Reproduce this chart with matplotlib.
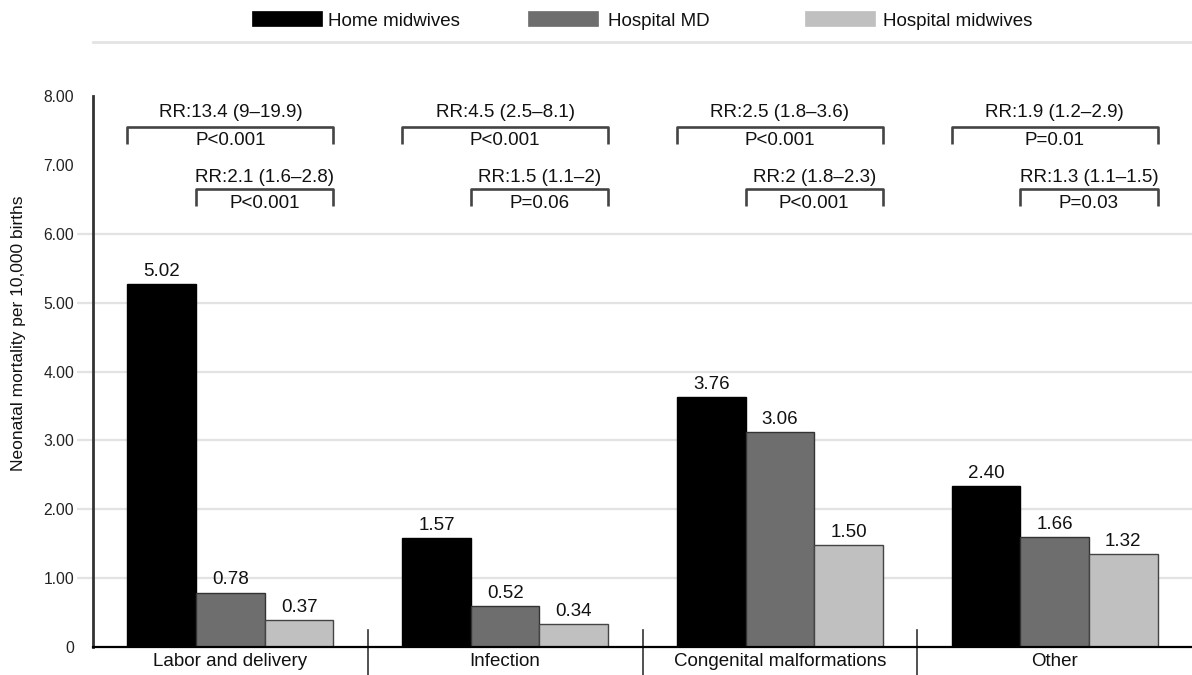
import matplotlib.pyplot as plt
from matplotlib.patches import Rectangle
import numpy as np

plt.rcParams['font.family'] = ['Liberation Sans', 'DejaVu Sans']

categories = ['Labor and delivery', 'Infection', 'Congenital malformations', 'Other']
series = ['Home midwives', 'Hospital MD', 'Hospital midwives']
colors = ['#000000', '#6e6e6e', '#c0c0c0']
edges = ['#000000', '#333333', '#444444']

# bar heights as drawn, and the printed labels
home_mw = [5.27, 1.58, 3.63, 2.34]
hosp_md = [0.79, 0.59, 3.12, 1.60]
hosp_mw = [0.39, 0.33, 1.48, 1.35]
home_lbl = ['5.02', '1.57', '3.76', '2.40']
md_lbl = ['0.78', '0.52', '3.06', '1.66']
mw_lbl = ['0.37', '0.34', '1.50', '1.32']

# relative risks: home midwives vs all hospital, and vs hospital MD
rr_all = ['RR:13.4 (9\u201319.9)', 'RR:4.5 (2.5\u20138.1)', 'RR:2.5 (1.8\u20133.6)', 'RR:1.9 (1.2\u20132.9)']
p_all = ['P<0.001', 'P<0.001', 'P<0.001', 'P=0.01']
rr_md = ['RR:2.1 (1.6\u20132.8)', 'RR:1.5 (1.1\u20132)', 'RR:2 (1.8\u20132.3)', 'RR:1.3 (1.1\u20131.5)']
p_md = ['P<0.001', 'P=0.06', 'P<0.001', 'P=0.03']

yticks = [0, 1, 2, 3, 4, 5, 6, 7, 8]
ytick_lbl = ['0', '1.00', '2.00', '3.00', '4.00', '5.00', '6.00', '7.00', '8.00']

W, H = 1192, 675
fig = plt.figure(figsize=(W / 100, H / 100), dpi=100)
ax = fig.add_axes([93 / W, 28 / H, 1099 / W, 551 / H])

x = np.arange(len(categories))
bw = 0.25
fs = 13.5

# light grid, extends a bit left of the axis
for yv in [1, 2, 3, 4, 5, 6]:
    ax.hlines(yv, -0.558, 3.5, color='#e3e3e3', lw=1.6, zorder=0, clip_on=False)

data = [home_mw, hosp_md, hosp_mw]
labels = [home_lbl, md_lbl, mw_lbl]
for i in range(3):
    bars = ax.bar(x + (i - 1) * bw, data[i], bw, color=colors[i],
                  edgecolor=edges[i], lw=1.0, zorder=2)
    for b, t in zip(bars, labels[i]):
        ax.annotate(t, (b.get_x() + b.get_width() / 2, b.get_height()),
                    xytext=(0, 3), textcoords='offset points',
                    ha='center', va='bottom', fontsize=fs, color='#111111')

# brackets
bc = '#444444'
for k, c in enumerate(x):
    xl, xr = c - 1.5 * bw, c + 1.5 * bw
    ax.plot([xl, xl, xr, xr], [7.31, 7.55, 7.55, 7.31], color=bc, lw=1.9, solid_capstyle='butt')
    ax.text(c, 7.76, rr_all[k], ha='center', va='center', fontsize=fs, color='#111111')
    ax.text(c, 7.36, p_all[k], ha='center', va='center', fontsize=fs, color='#111111')
    xl2 = c - 0.5 * bw
    ax.plot([xl2, xl2, xr, xr], [6.40, 6.65, 6.65, 6.40], color=bc, lw=1.9, solid_capstyle='butt')
    ax.text((xl2 + xr) / 2, 6.81, rr_md[k], ha='center', va='center', fontsize=fs, color='#111111')
    ax.text((xl2 + xr) / 2, 6.44, p_md[k], ha='center', va='center', fontsize=fs, color='#111111')

# group separators
for s in x[:-1] + 0.5:
    ax.plot([s, s], [0.25, -0.40], color='#333333', lw=1.2, clip_on=False)

ax.set_xlim(-0.5, 3.5)
ax.set_ylim(0, 8)
ax.set_xticks(x)
ax.set_xticklabels(categories, fontsize=fs, color='#111111')
ax.set_yticks(yticks)
ax.set_yticklabels(ytick_lbl, fontsize=11.3, color='#222222')
ax.tick_params(axis='y', length=0, pad=13.5)
ax.tick_params(axis='x', length=0, pad=4)

for sp in ['top', 'right']:
    ax.spines[sp].set_visible(False)
ax.spines['left'].set_color('#333333')
ax.spines['left'].set_linewidth(2.0)
ax.spines['bottom'].set_color('#000000')
ax.spines['bottom'].set_linewidth(1.6)

ax.set_ylabel('Neonatal mortality per 10,000 births', fontsize=12.5, color='#111111')
ax.yaxis.label.set_va('center')
ax.yaxis.set_label_coords(-0.068, 0.57)

# legend drawn by hand along the top
leg_x = [252, 528, 805]
txt_x = [328, 608, 883]
for i in range(3):
    fig.patches.append(Rectangle((leg_x[i] / W, 1 - 26 / H), 70 / W, 15 / H,
                                 transform=fig.transFigure, facecolor=colors[i],
                                 edgecolor=colors[i], lw=0.5))
    fig.text(txt_x[i] / W, 1 - 21 / H, series[i], ha='left', va='center',
             fontsize=fs, color='#111111')
fig.add_artist(plt.Line2D([93 / W, 1.0], [1 - 42 / H, 1 - 42 / H],
                          color='#e3e3e3', lw=2, transform=fig.transFigure))

fig.savefig('out.png', dpi=100)
